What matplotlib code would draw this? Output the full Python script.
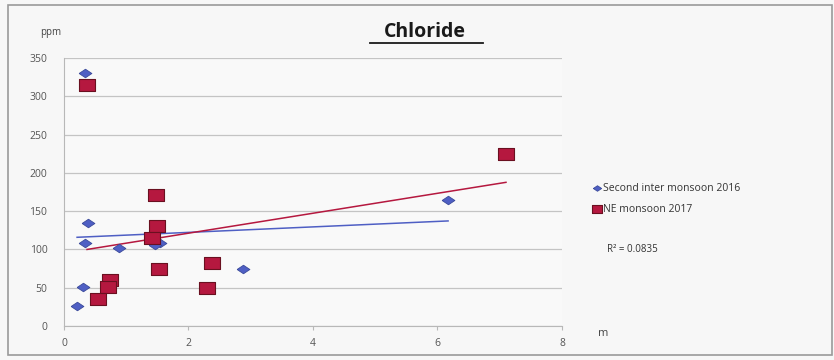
import numpy as np
import matplotlib
matplotlib.use('Agg')
import matplotlib.pyplot as plt

# Chloride (ppm) vs distance (m)
x_sim = [0.34, 0.39, 0.34, 0.89, 0.31, 0.21, 2.88, 1.54, 1.46, 6.17]
y_sim = [330, 134, 108, 102, 51, 26, 74, 108, 106, 164]

x_ne = [0.37, 1.48, 1.50, 1.41, 1.53, 2.38, 2.30, 0.74, 0.71, 0.54, 7.10]
y_ne = [315, 171, 130, 115, 75, 82, 50, 60, 51, 35, 224]

lab_sim = 'Second inter monsoon 2016'
lab_ne = 'NE monsoon 2017'

xticks = [0, 2, 4, 6, 8]
yticks = [0, 50, 100, 150, 200, 250, 300, 350]

blue = '#4f5fc4'
red = '#b5183f'

plt.rcParams['font.family'] = ['Open Sans', 'DejaVu Sans']

fig = plt.figure(figsize=(8.34, 3.6), dpi=100)
fig.patch.set_facecolor('#f7f7f7')
ax = fig.add_axes([64/834, 1 - 326/360, (562-64)/834, (326-58)/360])
ax.set_facecolor('#f9f9f9')

# frame round the whole chart
fig.add_artist(plt.Rectangle((8/834, 5/360), 824/834, 350/360, transform=fig.transFigure,
                             fill=False, edgecolor='#9a9a9a', linewidth=1.2))

wide_sq = [(-1.35, -1), (1.35, -1), (1.35, 1), (-1.35, 1), (-1.35, -1)]
wide_dm = [(-1.5, 0), (0, -1), (1.5, 0), (0, 1), (-1.5, 0)]

ax.scatter(x_sim, y_sim, marker=wide_dm, s=85, color=blue, edgecolors='#3a4a9a',
           linewidths=0.6, zorder=3, label=lab_sim)
ax.scatter(x_ne, y_ne, marker=wide_sq, s=120, color=red, edgecolors='#6a1020',
           linewidths=0.8, zorder=3, label=lab_ne)

# linear trendlines
for xs, ys, c in [(x_sim, y_sim, blue), (x_ne, y_ne, red)]:
    k, b = np.polyfit(xs, ys, 1)
    xx = np.array([min(xs), max(xs)])
    ax.plot(xx, k * xx + b, color=c, linewidth=1.1, zorder=2)

ax.set_xlim(0, 8)
ax.set_ylim(0, 350)
ax.set_xticks(xticks)
ax.set_yticks(yticks)
ax.grid(axis='y', color='#c4c4c4', linewidth=0.9)
ax.set_axisbelow(True)
for s in ['top', 'right']:
    ax.spines[s].set_visible(False)
for s in ['left', 'bottom']:
    ax.spines[s].set_color('#b8b8b8')
ax.tick_params(axis='both', labelsize=7.5, colors='#b8b8b8', labelcolor='#555555', length=3)
ax.tick_params(axis='x', pad=6)
ax.tick_params(axis='y', pad=12, length=0)

fig.text(425/834, 1 - 32/360, 'Chloride', ha='center', va='center', fontsize=14,
         fontweight='bold', color='#1a1a1a')
fig.add_artist(plt.Line2D([370/834, 483/834], [1 - 43/360, 1 - 43/360],
                          color='#1a1a1a', linewidth=1.3))
fig.text(40/834, 1 - 33/360, 'ppm', ha='left', va='center', fontsize=7, color='#444444')
fig.text(598/834, 1 - 333/360, 'm', ha='left', va='center', fontsize=8, color='#444444')

leg = fig.legend(loc='upper left', bbox_to_anchor=(588/834, 1 - 178/360), frameon=False,
                 fontsize=7.5, handletextpad=0.1, markerscale=0.65, labelspacing=0.9,
                 handlelength=0.8, borderpad=0)
for t in leg.get_texts():
    t.set_color('#333333')
fig.text(607/834, 1 - 249/360, 'R² = 0.0835', ha='left', va='center', fontsize=7,
         color='#333333')

fig.savefig('out.png', dpi=100, facecolor=fig.get_facecolor())
